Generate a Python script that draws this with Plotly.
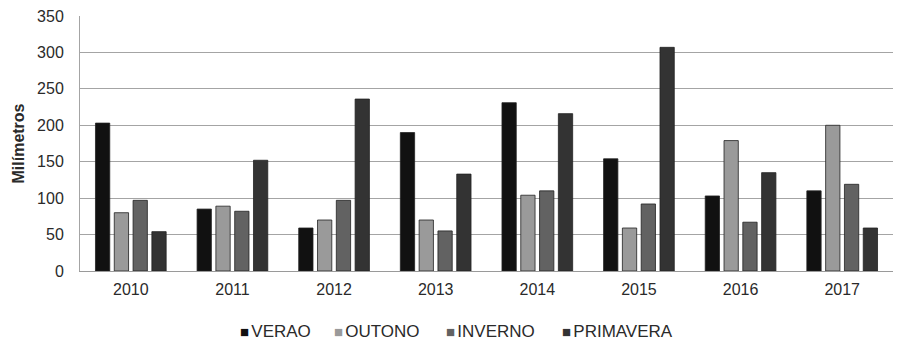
import plotly.graph_objects as go

years = ["2010", "2011", "2012", "2013", "2014", "2015", "2016", "2017"]
verao = [203, 85, 59, 190, 231, 154, 103, 110]
outono = [80, 89, 70, 70, 104, 59, 179, 200]
inverno = [97, 82, 97, 55, 110, 92, 67, 119]
primavera = [54, 152, 236, 133, 216, 307, 135, 59]

series = [
    ("VERAO", verao, "#111111"),
    ("OUTONO", outono, "#9a9a9a"),
    ("INVERNO", inverno, "#626262"),
    ("PRIMAVERA", primavera, "#333333"),
]

W, H = 898, 344
ML, MR, MT, MB = 80, 5, 16, 73
plot_w = W - ML - MR
plot_h = H - MT - MB

fig = go.Figure()
for name, vals, color in series:
    fig.add_trace(go.Bar(
        x=years, y=vals, name=name, showlegend=False,
        marker=dict(color=color, line=dict(color="#222222", width=0.8)),
    ))

# Legend row: small square swatch in front of each label
legend_left_px = [238, 332, 444, 560]
legend_mid_px = 331
for (name, _, color), px in zip(series, legend_left_px):
    fig.add_annotation(
        xref="paper", yref="paper",
        x=(px - ML) / plot_w, y=(H - MB - legend_mid_px) / plot_h,
        xanchor="left", yanchor="middle", showarrow=False,
        text=f'<span style="font-size:15px;color:{color}">■</span><span style="font-size:8px"> </span>{name}',
        font=dict(size=17, color="#2a2a2a"),
    )

fig.update_layout(
    width=W, height=H,
    margin=dict(l=ML, r=MR, t=MT, b=MB, autoexpand=False),
    paper_bgcolor="white", plot_bgcolor="white",
    barmode="group", bargap=0.26, bargroupgap=0.24,
    font=dict(family="Liberation Sans, Arial, sans-serif", size=16, color="#2a2a2a"),
    showlegend=False,
    xaxis=dict(
        showgrid=False, showline=True, linecolor="#9a9a9a", linewidth=1,
        ticks="", tickfont=dict(size=16), ticklabelstandoff=4,
    ),
    yaxis=dict(
        range=[0, 350], dtick=50, showgrid=True, gridcolor="#a4a4a4", gridwidth=1.2,
        showline=True, linecolor="#a4a4a4", linewidth=1, zeroline=False,
        ticks="", tickfont=dict(size=16), ticklabelstandoff=12,
        title=dict(text="<b>Milímetros</b>", font=dict(size=16), standoff=8),
    ),
)

fig.write_html("out.html")
